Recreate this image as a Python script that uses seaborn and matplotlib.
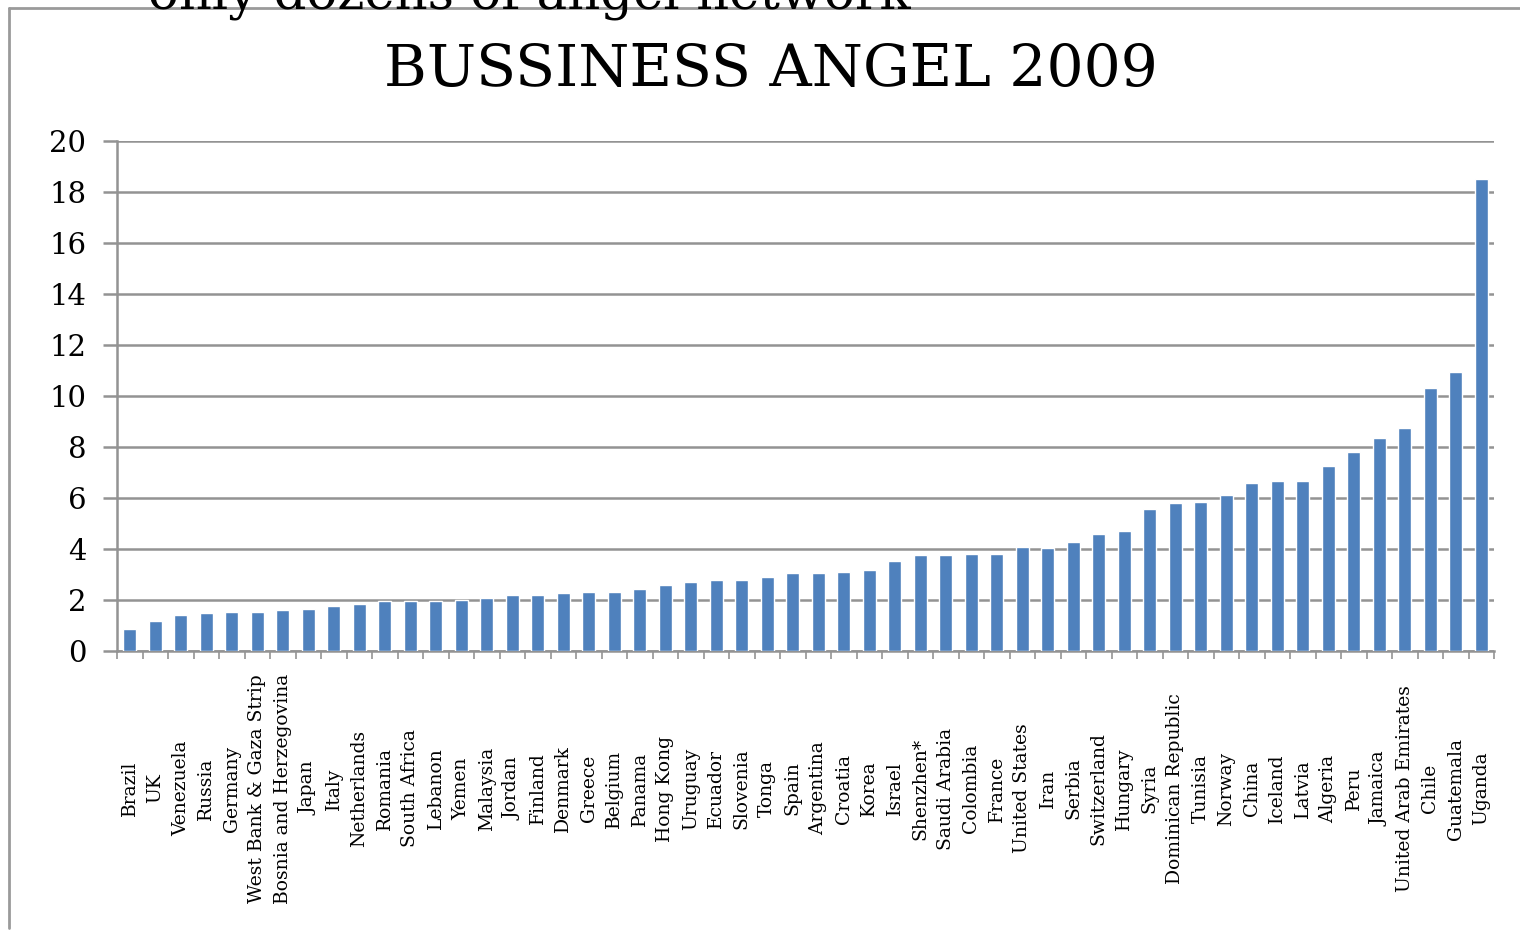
import matplotlib
matplotlib.use("Agg")
import matplotlib.pyplot as plt
import seaborn as sns
import pandas as pd
from matplotlib.lines import Line2D
from matplotlib.ticker import FixedLocator

countries = [
    "Brazil", "UK", "Venezuela", "Russia", "Germany", "West Bank & Gaza Strip",
    "Bosnia and Herzegovina", "Japan", "Italy", "Netherlands", "Romania",
    "South Africa", "Lebanon", "Yemen", "Malaysia", "Jordan", "Finland",
    "Denmark", "Greece", "Belgium", "Panama", "Hong Kong", "Uruguay", "Ecuador",
    "Slovenia", "Tonga", "Spain", "Argentina", "Croatia", "Korea", "Israel",
    "Shenzhen*", "Saudi Arabia", "Colombia", "France", "United States", "Iran",
    "Serbia", "Switzerland", "Hungary", "Syria", "Dominican Republic", "Tunisia",
    "Norway", "China", "Iceland", "Latvia", "Algeria", "Peru", "Jamaica",
    "United Arab Emirates", "Chile", "Guatemala", "Uganda",
]
values = [
    0.88, 1.19, 1.43, 1.48, 1.54, 1.54, 1.60, 1.66, 1.78, 1.84, 1.98,
    1.98, 1.98, 2.00, 2.09, 2.20, 2.21, 2.26, 2.32, 2.32, 2.45, 2.57,
    2.69, 2.79, 2.79, 2.92, 3.04, 3.04, 3.09, 3.16, 3.52, 3.76, 3.76,
    3.81, 3.81, 4.07, 4.05, 4.29, 4.59, 4.72, 5.57, 5.82, 5.86, 6.12,
    6.59, 6.65, 6.65, 7.27, 7.82, 8.37, 8.73, 10.33, 10.94, 18.52,
]
y_ticks = [0, 2, 4, 6, 8, 10, 12, 14, 16, 18, 20]

df = pd.DataFrame({"country": countries, "value": values})

sns.set_style("white")
plt.rcParams["font.family"] = ["DejaVu Serif"]
plt.rcParams["text.color"] = "black"
plt.rcParams["xtick.color"] = "black"
plt.rcParams["ytick.color"] = "black"

grid_gray = "#939393"
bar_blue = "#4f81bd"

fig = plt.figure(figsize=(15.2, 9.3), dpi=100)
ax = fig.add_axes([117 / 1520, 1 - 651 / 930, 1377 / 1520, 510 / 930])

sns.barplot(data=df, x="country", y="value", color=bar_blue, width=0.5,
            saturation=1, ax=ax, zorder=3)

ax.set_xlim(-0.5, len(countries) - 0.5)
ax.set_ylim(0, 20)
ax.set_yticks(y_ticks)
ax.yaxis.grid(True, color=grid_gray, linewidth=1.8, zorder=0)
ax.set_axisbelow(True)
ax.set_xlabel("")
ax.set_ylabel("")

for side in ["top", "right"]:
    ax.spines[side].set_visible(False)
for side in ["left", "bottom"]:
    ax.spines[side].set_color(grid_gray)
    ax.spines[side].set_linewidth(1.8)

ax.tick_params(axis="y", length=10, width=1.8, color=grid_gray, direction="out",
               labelsize=21, labelcolor="black", pad=12, left=True)
ax.tick_params(axis="x", length=0, pad=99, labelsize=13.5, labelcolor="black")
ax.set_xticks(range(len(countries)))
ax.set_xticklabels(countries, rotation=90)
for lbl in ax.get_xticklabels():
    lbl.set_va("center")
    lbl.set_ha("center")

# category boundary ticks, Excel style
ax.xaxis.set_minor_locator(FixedLocator([i - 0.5 for i in range(len(countries) + 1)]))
ax.tick_params(axis="x", which="minor", length=6, width=1.2, color=grid_gray,
               direction="out", bottom=True)

fig.text(771 / 1520, 1 - 70 / 930, "BUSSINESS ANGEL 2009", ha="center",
         va="center", fontsize=42, color="black", family="DejaVu Serif")

# slide fragment above the chart
fig.text(148 / 1520, 1 - 9 / 930, "only dozens of angel network", ha="left",
         va="baseline", fontsize=37, color="black", family="DejaVu Serif")

# chart frame
fig.add_artist(Line2D([9 / 1520, 9 / 1520], [1 - 8 / 930, 1 - 928 / 930],
                      transform=fig.transFigure, color="#9a9a9a", linewidth=2))
fig.add_artist(Line2D([9 / 1520, 1.0], [1 - 8 / 930, 1 - 8 / 930],
                      transform=fig.transFigure, color="#9a9a9a", linewidth=2))

fig.savefig("out.png", dpi=100)
